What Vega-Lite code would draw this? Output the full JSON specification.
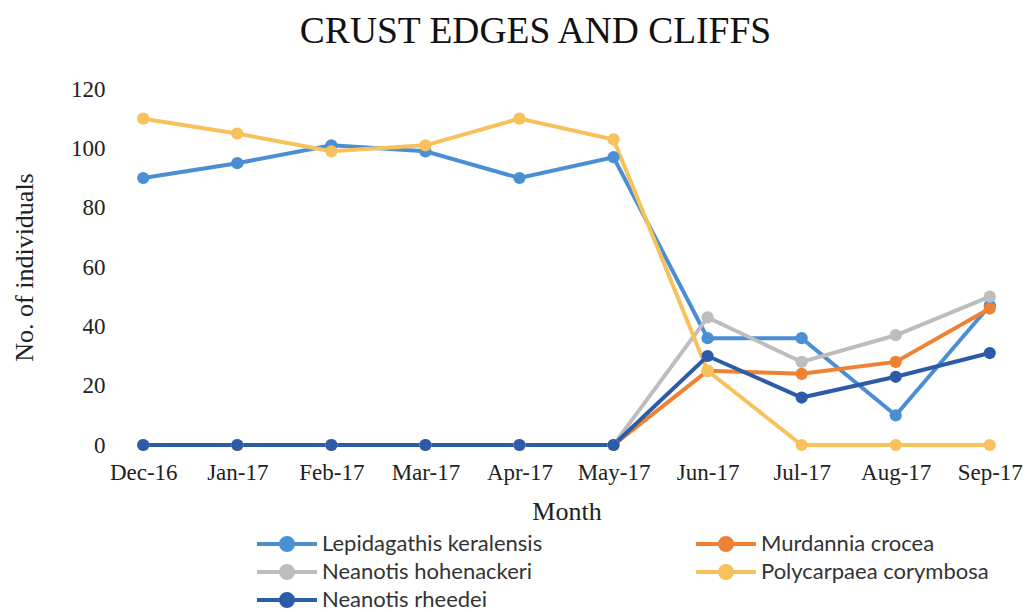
{
  "$schema": "https://vega.github.io/schema/vega-lite/v6.json",
  "autosize": "none",
  "width": 903,
  "height": 356,
  "padding": {"left": 115, "top": 89, "right": 8, "bottom": 167},
  "background": "white",
  "title": {"text": "CRUST EDGES AND CLIFFS", "font": "Liberation Serif", "fontSize": 37.5, "fontWeight": "normal", "color": "#111", "anchor": "middle", "dx": -31, "offset": 28},
  "config": {"view": {"stroke": null}},
  "data": {"values": [
    {"month": "Dec-16", "species": "Lepidagathis keralensis", "n": 90},
    {"month": "Jan-17", "species": "Lepidagathis keralensis", "n": 95},
    {"month": "Feb-17", "species": "Lepidagathis keralensis", "n": 101},
    {"month": "Mar-17", "species": "Lepidagathis keralensis", "n": 99},
    {"month": "Apr-17", "species": "Lepidagathis keralensis", "n": 90},
    {"month": "May-17", "species": "Lepidagathis keralensis", "n": 97},
    {"month": "Jun-17", "species": "Lepidagathis keralensis", "n": 36},
    {"month": "Jul-17", "species": "Lepidagathis keralensis", "n": 36},
    {"month": "Aug-17", "species": "Lepidagathis keralensis", "n": 10},
    {"month": "Sep-17", "species": "Lepidagathis keralensis", "n": 47},
    {"month": "Dec-16", "species": "Murdannia crocea", "n": 0},
    {"month": "Jan-17", "species": "Murdannia crocea", "n": 0},
    {"month": "Feb-17", "species": "Murdannia crocea", "n": 0},
    {"month": "Mar-17", "species": "Murdannia crocea", "n": 0},
    {"month": "Apr-17", "species": "Murdannia crocea", "n": 0},
    {"month": "May-17", "species": "Murdannia crocea", "n": 0},
    {"month": "Jun-17", "species": "Murdannia crocea", "n": 25},
    {"month": "Jul-17", "species": "Murdannia crocea", "n": 24},
    {"month": "Aug-17", "species": "Murdannia crocea", "n": 28},
    {"month": "Sep-17", "species": "Murdannia crocea", "n": 46},
    {"month": "Dec-16", "species": "Neanotis hohenackeri", "n": 0},
    {"month": "Jan-17", "species": "Neanotis hohenackeri", "n": 0},
    {"month": "Feb-17", "species": "Neanotis hohenackeri", "n": 0},
    {"month": "Mar-17", "species": "Neanotis hohenackeri", "n": 0},
    {"month": "Apr-17", "species": "Neanotis hohenackeri", "n": 0},
    {"month": "May-17", "species": "Neanotis hohenackeri", "n": 0},
    {"month": "Jun-17", "species": "Neanotis hohenackeri", "n": 43},
    {"month": "Jul-17", "species": "Neanotis hohenackeri", "n": 28},
    {"month": "Aug-17", "species": "Neanotis hohenackeri", "n": 37},
    {"month": "Sep-17", "species": "Neanotis hohenackeri", "n": 50},
    {"month": "Dec-16", "species": "Polycarpaea corymbosa", "n": 110},
    {"month": "Jan-17", "species": "Polycarpaea corymbosa", "n": 105},
    {"month": "Feb-17", "species": "Polycarpaea corymbosa", "n": 99},
    {"month": "Mar-17", "species": "Polycarpaea corymbosa", "n": 101},
    {"month": "Apr-17", "species": "Polycarpaea corymbosa", "n": 110},
    {"month": "May-17", "species": "Polycarpaea corymbosa", "n": 103},
    {"month": "Jun-17", "species": "Polycarpaea corymbosa", "n": 25},
    {"month": "Jul-17", "species": "Polycarpaea corymbosa", "n": 0},
    {"month": "Aug-17", "species": "Polycarpaea corymbosa", "n": 0},
    {"month": "Sep-17", "species": "Polycarpaea corymbosa", "n": 0},
    {"month": "Dec-16", "species": "Neanotis rheedei", "n": 0},
    {"month": "Jan-17", "species": "Neanotis rheedei", "n": 0},
    {"month": "Feb-17", "species": "Neanotis rheedei", "n": 0},
    {"month": "Mar-17", "species": "Neanotis rheedei", "n": 0},
    {"month": "Apr-17", "species": "Neanotis rheedei", "n": 0},
    {"month": "May-17", "species": "Neanotis rheedei", "n": 0},
    {"month": "Jun-17", "species": "Neanotis rheedei", "n": 30},
    {"month": "Jul-17", "species": "Neanotis rheedei", "n": 16},
    {"month": "Aug-17", "species": "Neanotis rheedei", "n": 23},
    {"month": "Sep-17", "species": "Neanotis rheedei", "n": 31}
  ]},
  "encoding": {
    "x": {"field": "month", "type": "ordinal", "sort": null,
      "scale": {"type": "point", "padding": 0.3},
      "axis": {"title": "Month", "titleFont": "Liberation Serif", "titleFontSize": 26, "titleFontWeight": "normal", "titleColor": "#222", "titlePadding": 14,
        "labelFont": "Liberation Serif", "labelFontSize": 23, "labelColor": "#222", "labelAngle": 0, "labelPadding": 16,
        "ticks": false, "domain": false, "grid": false}},
    "y": {"field": "n", "type": "quantitative",
      "scale": {"domain": [0, 120], "nice": false},
      "axis": {"title": "No. of individuals", "values": [0, 20, 40, 60, 80, 100, 120], "titleFont": "Liberation Serif", "titleFontSize": 26, "titleFontWeight": "normal", "titleColor": "#222", "titlePadding": 33,
        "labelFont": "Liberation Serif", "labelFontSize": 23, "labelColor": "#222", "labelPadding": 10,
        "ticks": false, "domain": false, "grid": false}},
    "color": {"field": "species", "type": "nominal",
      "scale": {"domain": ["Lepidagathis keralensis", "Neanotis hohenackeri", "Neanotis rheedei", "Murdannia crocea", "Polycarpaea corymbosa"],
        "range": ["#4a8fd3", "#bdbdbd", "#2c5ca8", "#ee8133", "#f7c25c"]},
      "legend": {"title": null, "orient": "none", "legendX": 160, "legendY": 443, "columns": 2, "columnPadding": 145, "rowPadding": 0,
        "symbolType": "M-3,0H3M0.6,0A0.6,0.6,0,1,1,-0.6,0A0.6,0.6,0,1,1,0.6,0Z", "symbolSize": 400, "symbolStrokeWidth": 4,
        "labelFont": "Lato", "labelFontSize": 22, "labelColor": "#333", "labelOffset": 23, "labelLimit": 400}}
  },
  "layer": [
    {"mark": {"type": "line", "strokeWidth": 4}},
    {"mark": {"type": "point", "filled": true, "size": 150, "opacity": 1}}
  ]
}
